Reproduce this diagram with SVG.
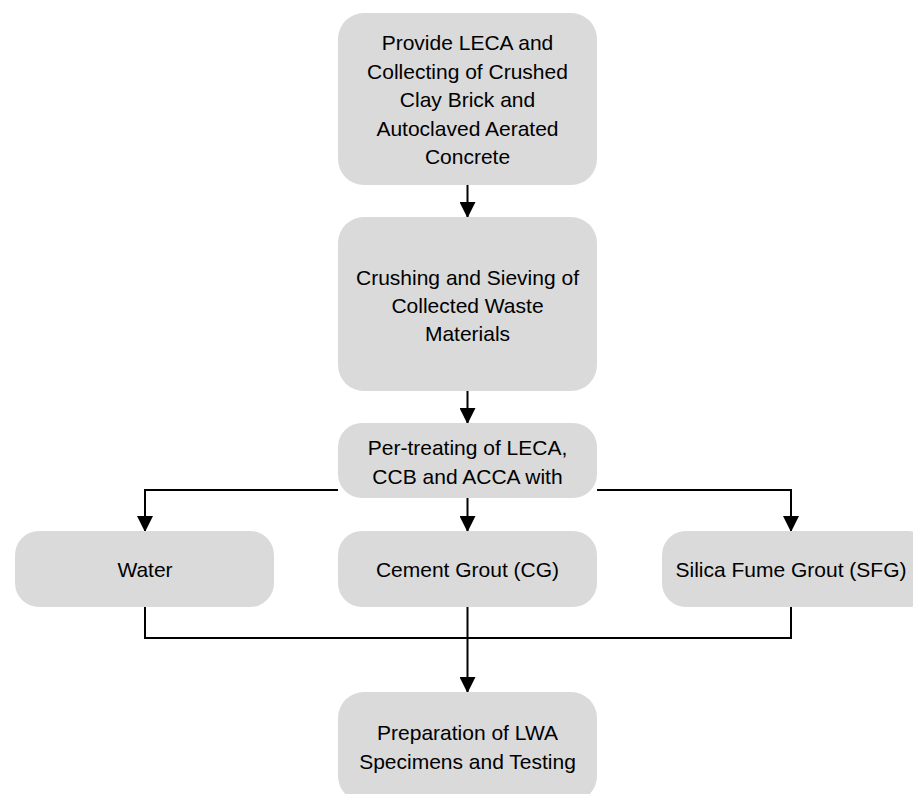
<svg xmlns="http://www.w3.org/2000/svg" width="913" height="794" viewBox="0 0 913 794">
<defs>
<style>
.box{fill:#dadada;stroke:none}
.t{font-family:"Liberation Sans",Arial,sans-serif;font-size:21px;fill:#000;text-anchor:middle}
.ln{fill:none;stroke:#000;stroke-width:2}
</style>
<marker id="ah" markerWidth="16" markerHeight="16" refX="15" refY="8" orient="auto" markerUnits="userSpaceOnUse">
<path d="M0,0 L16,8 L0,16 Z" fill="#000"/>
</marker>
</defs>
<rect width="913" height="794" fill="#fff"/>
<g id="connectors">
<path class="ln" d="M467.5,185 V217" marker-end="url(#ah)"/>
<path class="ln" d="M467.5,391 V423" marker-end="url(#ah)"/>
<path class="ln" d="M467.5,498 V531" marker-end="url(#ah)"/>
<path class="ln" d="M338,490 H145 V531" marker-end="url(#ah)"/>
<path class="ln" d="M597,490 H791 V531" marker-end="url(#ah)"/>
<path class="ln" d="M145,607 V638 H791 V607"/>
<path class="ln" d="M467.5,607 V692" marker-end="url(#ah)"/>
</g>
<g id="n1">
<rect class="box" x="338" y="13" width="259" height="172" rx="26"/>
<text class="t" x="467.5" y="50">Provide LECA and</text>
<text class="t" x="467.5" y="79">Collecting of Crushed</text>
<text class="t" x="467.5" y="107">Clay Brick and</text>
<text class="t" x="467.5" y="136">Autoclaved Aerated</text>
<text class="t" x="467.5" y="164">Concrete</text>
</g>
<g id="n2">
<rect class="box" x="338" y="217" width="259" height="174" rx="26"/>
<text class="t" x="467.5" y="285">Crushing and Sieving of</text>
<text class="t" x="467.5" y="313">Collected Waste</text>
<text class="t" x="467.5" y="341">Materials</text>
</g>
<g id="n3">
<rect class="box" x="338" y="423" width="259" height="75" rx="24"/>
<text class="t" x="467.5" y="455">Per-treating of LECA,</text>
<text class="t" x="467.5" y="484">CCB and ACCA with</text>
</g>
<g id="n4">
<rect class="box" x="15" y="531" width="259" height="76" rx="24"/>
<text class="t" x="145" y="577">Water</text>
</g>
<g id="n5">
<rect class="box" x="338" y="531" width="259" height="76" rx="24"/>
<text class="t" x="467.5" y="577">Cement Grout (CG)</text>
</g>
<g id="n6">
<rect class="box" x="662" y="531" width="270" height="76" rx="24"/>
<text class="t" x="791" y="577">Silica Fume Grout (SFG)</text>
</g>
<g id="n7">
<rect class="box" x="338" y="692" width="259" height="110" rx="26"/>
<text class="t" x="467.5" y="740">Preparation of LWA</text>
<text class="t" x="467.5" y="769">Specimens and Testing</text>
</g>
</svg>
